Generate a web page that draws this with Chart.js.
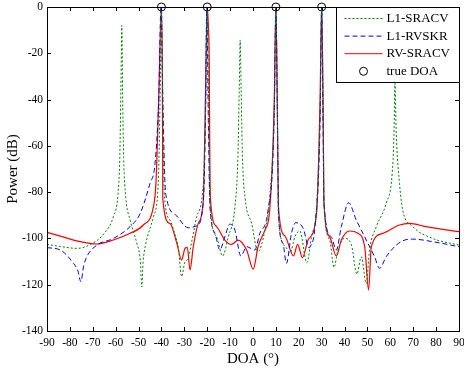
<!DOCTYPE html>
<html>
<head>
<meta charset="utf-8">
<script src="https://cdn.jsdelivr.net/npm/chart.js@4"></script>
<style>
  html, body { margin: 0; padding: 0; background: #fff; }
  #wrap { width: 464px; height: 372px; }
</style>
</head>
<body>
<div id="wrap"><canvas id="myChart" width="464" height="372"></canvas></div>
<script>
// DOA (deg) / power (dB)
const srX = [-90,-84,-77,-71,-65,-61,-59,-58.2,-57.7,-57.3,-57,-56.5,-55.6,-53.7,-50.8,-49.2,-48.6,-48,-47.1,-43.5,-41.4,-40.6,-40,-39.4,-38.8,-36.3,-34.5,-32.5,-31.2,-29.7,-28.5,-26.5,-24.6,-21.7,-20.6,-20,-19.4,-18.8,-15.9,-13.3,-10.8,-7.9,-6.6,-6,-5.6,-5.2,-4.6,-3.4,-0.6,2.2,5.2,7.3,9.4,10,10.6,11.1,14,16.2,18.4,20.5,23.5,25.6,27.8,29.4,30,30.6,31,33.5,35.4,37.1,40,43,45.4,47.3,49.5,50.9,53.9,58.2,60.8,61.6,62,62.6,64,65.4,69.8,78.5,90];
const srY = [-102.6,-103.5,-104.3,-102.6,-97.8,-90.6,-81,-65,-35,-8,-35,-65,-82,-92,-102,-110,-121,-110,-103.6,-90.6,-76,-40,0,-40,-80,-92,-97,-105,-116.5,-110,-109,-100,-90.6,-76,-40,0,-40,-84,-99.3,-107.6,-99.3,-86.3,-65,-35,-14.3,-35,-65,-83,-93.5,-105.7,-96.4,-82,-40,0,-40,-90,-103.3,-106.2,-99,-96.8,-110.5,-99,-86,-40,0,-40,-83.4,-100.7,-112.5,-105,-100,-102.8,-115.4,-107.9,-119.5,-105,-94.9,-84.8,-72,-55,-33,-55,-76.2,-87.7,-94.9,-100,-102.9];

const skX = [-90,-84.2,-78.4,-76.5,-75.2,-74,-72.6,-68.2,-61,-53.7,-49.3,-45,-42.8,-41.2,-40.2,-39.4,-38.5,-37.7,-33.3,-28.3,-24.6,-21.7,-20.8,-20.2,-19.5,-18.8,-16.6,-14.5,-12.3,-10.1,-7.9,-5.3,-2.8,0.8,3,6.6,9.2,10,10.7,11.2,13.1,14.6,16.8,18.7,21.9,24.5,25.3,27.1,29.3,30,30.6,31,34.2,36.4,38.6,41.8,45.1,49.5,53.1,55.3,58.2,62.6,66,69.8,78.5,90];
const skY = [-104,-105,-110.8,-114,-118.7,-112,-107.9,-102.9,-100,-94.9,-89.2,-76.2,-67.5,-40,0,-40,-75,-83,-90.3,-95.4,-94.6,-84,-50,0,-50,-86.3,-97.8,-105,-99.3,-93.8,-96.4,-107.6,-103.6,-105,-97.8,-87.7,-50,0,-50,-90.6,-102.2,-110.8,-97.8,-93.2,-95.6,-104,-103,-94.6,-50,0,-50,-84.8,-99.3,-105,-94.9,-84.6,-92,-100.7,-107.9,-112.9,-107.9,-102.9,-100.8,-100.3,-101.4,-103.6];

const rvX = [-90,-84.2,-75.5,-68.2,-61,-53.7,-47.9,-43.5,-42.4,-41.2,-40,-39.6,-39.4,-36.3,-33.3,-31.2,-29.7,-28.7,-27.5,-26.1,-23.9,-21.7,-20.8,-20,-19.5,-19.1,-18.9,-18.6,-15.9,-12.3,-9.4,-6.5,-2.8,0.1,2.2,5.2,7.3,9.3,10,10.6,11.1,14,17.7,19.5,21.6,24.2,27.8,29.3,30,30.6,31,33.5,36.4,38.6,42.2,45.8,48.8,50.5,51.7,56.7,64,68.4,75.6,90];
const rvY = [-97.4,-99,-101.4,-102.4,-100.7,-97.8,-94.2,-86.3,-76,-40,0,-30,-83,-93.5,-102,-109.3,-104.3,-103.9,-113.6,-103.6,-93.5,-83.4,-40,0,-8,-25,-60,-83,-94.9,-100.7,-102.6,-100.7,-105,-113.3,-103.6,-96.4,-87.7,-40,0,-40,-86,-99,-107.6,-102.6,-108.3,-100.4,-88.9,-40,0,-40,-84.8,-99.3,-107.6,-100.7,-96.8,-97.8,-103.6,-122.3,-103.6,-97.8,-94.2,-93.5,-94.9,-97.1];

const trueDoa = [-40, -20, 10, 30];
const trueDoaPow = [0, 0, 0, 0];

const xTicks = [-90,-80,-70,-60,-50,-40,-30,-20,-10,0,10,20,30,40,50,60,70,80,90];
const yTicks = [-140,-120,-100,-80,-60,-40,-20,0];

const serif = "'Liberation Serif', 'Times New Roman', serif";

function pts(xs, ys) {
  return xs.map((x, i) => ({ x: x, y: ys[i] }));
}

// frame with inward ticks, plus the boxed legend inside the plot
const matlabFrame = {
  id: 'matlabFrame',
  afterDraw(chart) {
    const ctx = chart.ctx;
    const a = chart.chartArea;
    const sx = chart.scales.x, sy = chart.scales.y;
    ctx.save();
    ctx.strokeStyle = '#000';
    ctx.lineWidth = 1;
    ctx.beginPath();
    xTicks.forEach(v => {
      const p = Math.round(sx.getPixelForValue(v)) + 0.5;
      ctx.moveTo(p, a.bottom); ctx.lineTo(p, a.bottom - 4);
      ctx.moveTo(p, a.top); ctx.lineTo(p, a.top + 4);
    });
    yTicks.forEach(v => {
      const p = Math.round(sy.getPixelForValue(v)) + 0.5;
      ctx.moveTo(a.left, p); ctx.lineTo(a.left + 4, p);
      ctx.moveTo(a.right, p); ctx.lineTo(a.right - 4, p);
    });
    ctx.stroke();
    ctx.strokeRect(Math.round(a.left) + 0.5, Math.round(a.top) + 0.5,
      Math.round(a.right - a.left), Math.round(a.bottom - a.top));

    // legend
    const bw = 123, bh = 75;
    const bx = Math.round(a.right) - bw + 0.5, by = Math.round(a.top) + 0.5;
    ctx.fillStyle = '#fff';
    ctx.fillRect(bx, by, bw, bh);
    ctx.strokeRect(bx, by, bw, bh);
    ctx.font = '13px ' + serif;
    ctx.textBaseline = 'middle';
    chart.data.datasets.forEach((ds, i) => {
      const yy = by + 11 + i * 17.6;
      ctx.fillStyle = '#000';
      ctx.fillText(ds.label, bx + 50, yy);
      ctx.strokeStyle = ds.borderColor;
      if (ds.showLine) {
        ctx.setLineDash(ds.borderDash || []);
        ctx.beginPath();
        ctx.moveTo(bx + 8, yy); ctx.lineTo(bx + 46, yy);
        ctx.stroke();
        ctx.setLineDash([]);
      } else {
        ctx.beginPath();
        ctx.arc(bx + 27, yy, 4, 0, Math.PI * 2);
        ctx.stroke();
      }
    });
    ctx.restore();
  }
};

new Chart(document.getElementById('myChart'), {
  type: 'scatter',
  data: {
    datasets: [{
      label: 'L1-SRACV',
      data: pts(srX, srY),
      showLine: true,
      borderColor: '#008000',
      borderWidth: 1,
      borderDash: [2, 2],
      pointRadius: 0,
      cubicInterpolationMode: 'monotone'
    }, {
      label: 'L1-RVSKR',
      data: pts(skX, skY),
      showLine: true,
      borderColor: '#0000ff',
      borderWidth: 1,
      borderDash: [5, 3],
      pointRadius: 0,
      cubicInterpolationMode: 'monotone'
    }, {
      label: 'RV-SRACV',
      data: pts(rvX, rvY),
      showLine: true,
      borderColor: '#ff0000',
      borderWidth: 1.2,
      pointRadius: 0,
      cubicInterpolationMode: 'monotone'
    }, {
      label: 'true DOA',
      data: pts(trueDoa, trueDoaPow),
      showLine: false,
      borderColor: '#000',
      backgroundColor: 'rgba(0,0,0,0)',
      borderWidth: 1,
      pointRadius: 4,
      clip: false
    }]
  },
  options: {
    responsive: false,
    animation: false,
    layout: { padding: { top: 7, right: 4, left: 0, bottom: 0 } },
    plugins: {
      legend: { display: false },
      tooltip: { enabled: false }
    },
    scales: {
      x: {
        type: 'linear',
        min: -90,
        max: 90,
        grid: { display: false, drawTicks: false },
        border: { display: false },
        afterBuildTicks: s => { s.ticks = xTicks.map(v => ({ value: v })); },
        afterFit: s => { s.height = 41; s.paddingLeft = 0; s.paddingRight = 0; },
        ticks: { color: '#000', font: { family: serif, size: 11.5 }, padding: 5, maxRotation: 0, autoSkip: false },
        title: { display: true, text: 'DOA (°)', color: '#000', font: { family: serif, size: 15 }, padding: { top: 2 } }
      },
      y: {
        min: -140,
        max: 0,
        grid: { display: false, drawTicks: false },
        border: { display: false },
        afterBuildTicks: s => { s.ticks = yTicks.map(v => ({ value: v })); },
        afterFit: s => { s.width = 47; s.paddingTop = 0; s.paddingBottom = 0; },
        ticks: { color: '#000', font: { family: serif, size: 11.5 }, padding: 4 },
        title: { display: true, text: 'Power (dB)', color: '#000', font: { family: serif, size: 15 }, padding: { bottom: 0 } }
      }
    }
  },
  plugins: [matlabFrame]
});
</script>
</body>
</html>
